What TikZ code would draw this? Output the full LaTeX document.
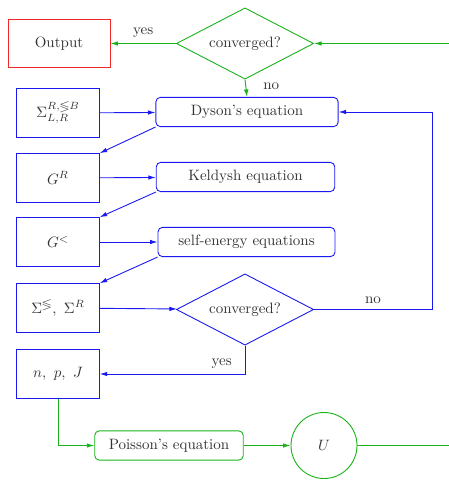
\documentclass[tikz,border=0pt]{standalone}
\usepackage{amssymb}
\usetikzlibrary{arrows.meta,shapes.geometric}
\definecolor{loopblue}{HTML}{1A1AF0}
\definecolor{loopgreen}{HTML}{19B319}
\definecolor{outred}{HTML}{F02828}
\definecolor{ink}{HTML}{333333}

\begin{document}
\begin{tikzpicture}[x=0.6667pt, y=-0.6667pt, line width=0.6pt, text=ink,
    tip/.style={-{Latex[length=5pt,width=3pt]}},
    qbox/.style={draw=loopblue, minimum width=55pt, minimum height=32.5pt, inner sep=0pt},
    eqbox/.style={draw=#1, rounded corners=3pt, minimum height=19.5pt, inner sep=0pt},
    check/.style={draw=#1, diamond, minimum width=91.5pt, minimum height=47.5pt, aspect=1.93, inner sep=0pt},
    bflow/.style={draw=loopblue, tip},
    gflow/.style={draw=loopgreen, tip}]
  \useasboundingbox (0,0) rectangle (448,483);

  % outer loop
  \node[draw=outred, minimum width=68pt, minimum height=32pt] (out) at (59,43.5) {Output};
  \node[check=loopgreen] (conv1) at (245,43.5) {converged?};

  % left column: quantities
  \node[qbox] (sigLR) at (58,113) {$\Sigma^{R,\lessgtr B}_{L,R}$};
  \node[qbox] (gR) at (58,178) {$G^R$};
  \node[qbox] (gLess) at (58,242) {$G^<$};
  \node[qbox] (sigma) at (58,308) {$\Sigma^{\lessgtr},\ \Sigma^R$};
  \node[qbox] (npj) at (58,374) {$n,\ p,\ J$};

  % right column: equations
  \node[eqbox=loopblue, minimum width=121.5pt] (dyson) at (247,112) {Dyson's equation};
  \node[eqbox=loopblue, minimum width=119pt] (keldysh) at (245.5,177) {Keldysh equation};
  \node[eqbox=loopblue, minimum width=118pt] (selfen) at (246.5,242) {self-energy equations};
  \node[check=loopblue] (conv2) at (245,309.5) {converged?};

  \node[eqbox=loopgreen, minimum width=99pt] (poisson) at (169,445.5) {Poisson's equation};
  \node[draw=loopgreen, circle, minimum size=44pt, inner sep=0pt] (pot) at (324,445.5) {$U$};

  % inner loop
  \draw[bflow] (sigLR) -- (dyson);
  \draw[bflow] (dyson.south west) -- (gR.north east);
  \draw[bflow] (gR) -- (keldysh);
  \draw[bflow] (keldysh.south west) -- (gLess.north east);
  \draw[bflow] (gLess) -- (selfen);
  \draw[bflow] (selfen.south west) -- (sigma.north east);
  \draw[bflow] (sigma) -- (conv2);
  \draw[bflow] (conv2.east) -- node[above, text=ink, pos=0.5] {no} (432,309.5) |- (dyson.east);
  \draw[bflow] (conv2.south) |- node[above, text=ink, pos=0.58] {yes} (npj.east);

  % potential update
  \coordinate (loop) at (470,445.5);
  \draw[gflow] (npj.south) |- (poisson.west);
  \draw[gflow] (poisson) -- (pot);
  \draw[gflow] (pot.east) -- (loop) |- (conv1.east);
  \draw[gflow] (conv1.west) -- node[above, text=ink] {yes} (out.east);
  \draw[gflow] (conv1.south) -- node[right, text=ink, pos=0.4, xshift=8pt] {no} (dyson.north);
\end{tikzpicture}
\end{document}
